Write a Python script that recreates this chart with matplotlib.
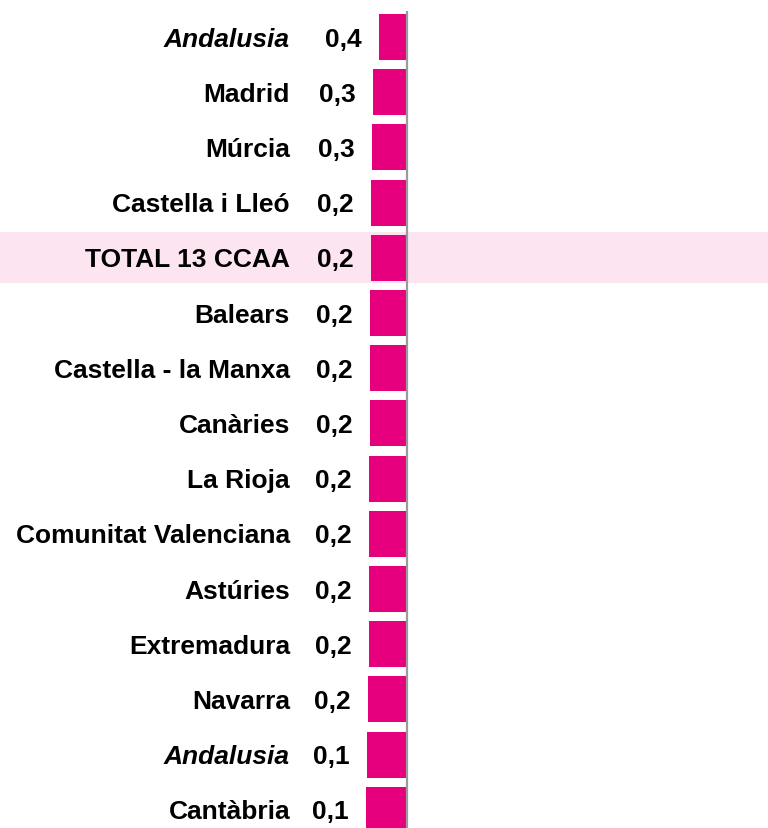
import matplotlib.pyplot as plt

plt.rcParams["font.family"] = ["Liberation Sans", "DejaVu Sans"]

# data (bars extend left from the axis, shorter for larger values)
regions = ["Andalusia", "Madrid", "Múrcia", "Castella i Lleó", "TOTAL 13 CCAA",
           "Balears", "Castella - la Manxa", "Canàries", "La Rioja",
           "Comunitat Valenciana", "Astúries", "Extremadura", "Navarra",
           "Andalusia", "Cantàbria"]
values = [0.44, 0.28, 0.26, 0.24, 0.23, 0.21, 0.20, 0.20, 0.19, 0.19,
          0.19, 0.18, 0.16, 0.14, 0.11]
italic_rows = [0, 13]
total_row = 4

BASE = 1.125            # position of the vertical axis line (data units)
BAR_COLOR = "#E6007E"
BAND_COLOR = "#FDE4F1"

W, H = 768, 829
fig = plt.figure(figsize=(W / 100, H / 100), dpi=100)
ax = fig.add_axes([0, 0, 1, (H - 12) / H])

pitch = 55.2
first_c = 38.0
top_i = -(first_c - 12) / pitch
bot_i = (H - first_c) / pitch
ax.set_ylim(bot_i, top_i)
ax.set_xlim(-361.5 / 40, (W - 361.5) / 40)
ax.axis("off")

ax.axhspan(total_row - 0.46, total_row + 0.46, color=BAND_COLOR, lw=0, zorder=0)

ys = list(range(len(regions)))
widths = [BASE - v for v in values]
ax.barh(ys, widths, left=values, height=0.835, color=BAR_COLOR, zorder=2)
ax.axvline(BASE, color="#9a9a9a", lw=1.6, zorder=3)

# baseline sits ~half a cap height below the bar centre
dy = -6.2
for i, (name, v) in enumerate(zip(regions, values)):
    ax.annotate(f"{v:.1f}".replace(".", ","), xy=(v, i), xytext=(-12.5, dy),
                textcoords="offset points", ha="right", va="baseline",
                fontsize=19, fontweight="bold", color="black", zorder=4)
    ax.annotate(name, xy=((290 - 361.5) / 40, i), xytext=(0, dy),
                textcoords="offset points", ha="right", va="baseline",
                fontsize=19, fontweight="bold",
                style="italic" if i in italic_rows else "normal", color="black", zorder=4)

fig.savefig("out.png", dpi=100)
